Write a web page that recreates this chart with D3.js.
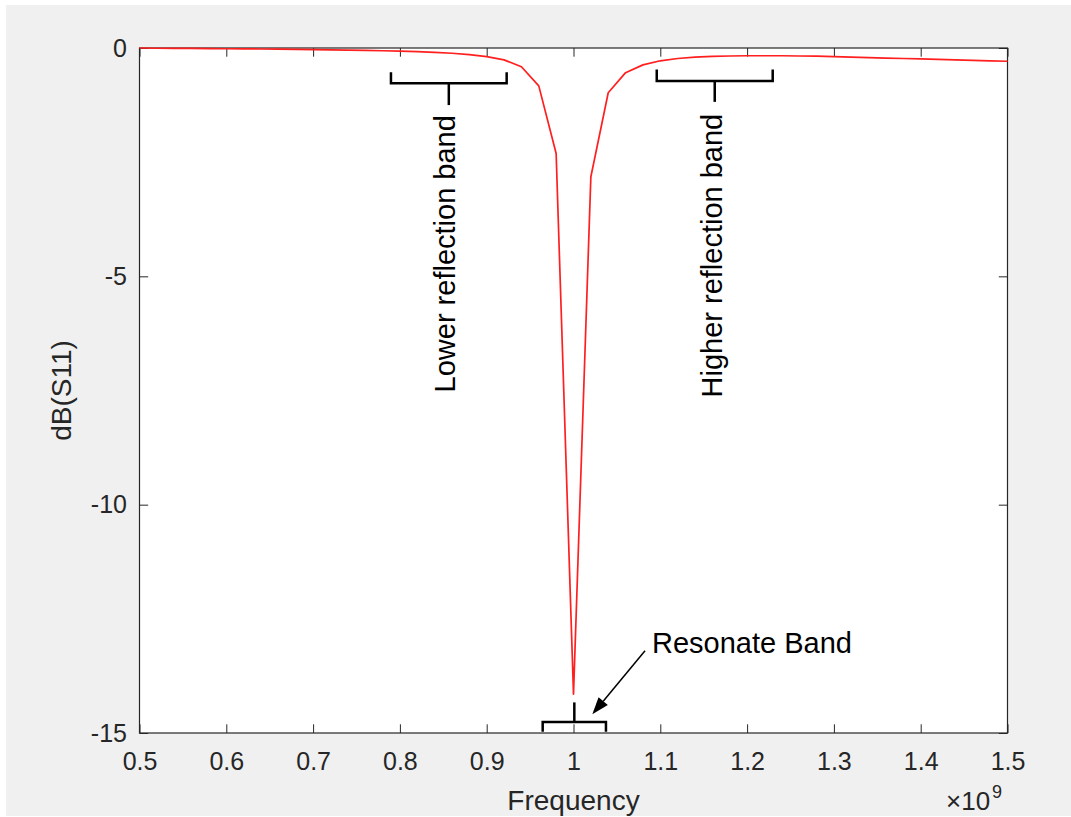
<!DOCTYPE html>
<html>
<head>
<meta charset="utf-8">
<script src="https://cdn.jsdelivr.net/npm/d3@7/dist/d3.min.js"></script>
<style>
  html, body { margin: 0; padding: 0; background: #fff; }
  svg { display: block; font-family: "Liberation Sans", Arial, Helvetica, sans-serif; }
</style>
</head>
<body>
<svg id="chart" width="1071" height="817"></svg>
<script>
// Frequency samples (units of 1e9 Hz) and the reflection coefficient in dB
const freq = [
  0.50, 0.52, 0.54, 0.56, 0.58, 0.60, 0.62, 0.64, 0.66, 0.68,
  0.70, 0.72, 0.74, 0.76, 0.78, 0.80, 0.82, 0.84, 0.86, 0.88,
  0.90, 0.92, 0.94, 0.96, 0.98, 1.00, 1.02, 1.04, 1.06, 1.08,
  1.10, 1.12, 1.14, 1.16, 1.18, 1.20, 1.22, 1.24, 1.26, 1.28,
  1.30, 1.32, 1.34, 1.36, 1.38, 1.40, 1.42, 1.44, 1.46, 1.48, 1.50
];
const s11dB = [
  0.000, -0.005, -0.008, -0.010, -0.013, -0.016, -0.019, -0.022, -0.026, -0.030,
  -0.035, -0.040, -0.045, -0.052, -0.060, -0.070, -0.080, -0.095, -0.115, -0.145,
  -0.190, -0.260, -0.410, -0.830, -2.310, -14.150, -2.820, -0.980, -0.540, -0.370,
  -0.280, -0.230, -0.200, -0.185, -0.175, -0.170, -0.170, -0.170, -0.175, -0.180,
  -0.190, -0.200, -0.210, -0.220, -0.230, -0.240, -0.250, -0.260, -0.270, -0.280, -0.290
];

// Axis ticks
const xTicks = [0.5, 0.6, 0.7, 0.8, 0.9, 1.0, 1.1, 1.2, 1.3, 1.4, 1.5];
const xTickLabels = ["0.5", "0.6", "0.7", "0.8", "0.9", "1", "1.1", "1.2", "1.3", "1.4", "1.5"];
const yTicks = [-15, -10, -5, 0];
const yTickLabels = ["-15", "-10", "-5", "0"];

// Band annotations: [start, end] in frequency
const lowerBand = [0.7897, 0.923];
const higherBand = [1.0959, 1.2295];
const resonateBand = [0.9645, 1.0374];

const svg = d3.select("#chart");
const W = 1071, H = 817;
const plot = { left: 139.5, right: 1007.5, top: 48, bottom: 733 };

// Figure background
svg.append("rect").attr("x", 6).attr("y", 5).attr("width", W - 6).attr("height", H - 6)
  .attr("fill", "#f0f0f0");
svg.append("rect")
  .attr("x", plot.left).attr("y", plot.top)
  .attr("width", plot.right - plot.left).attr("height", plot.bottom - plot.top)
  .attr("fill", "#ffffff");

const x = d3.scaleLinear().domain([0.5, 1.5]).range([plot.left, plot.right]);
const y = d3.scaleLinear().domain([-15, 0]).range([plot.bottom, plot.top]);

const axisColor = "#262626";
const tickLen = 8.7;
const fmtX = (d) => xTickLabels[xTicks.indexOf(d)];
const fmtY = (d) => yTickLabels[yTicks.indexOf(d)];

function styleAxis(g) {
  g.select(".domain").remove();
  g.selectAll(".tick line").attr("stroke", axisColor).attr("stroke-width", 1);
  g.selectAll(".tick text").attr("fill", axisColor).attr("font-size", 25)
    .attr("font-family", "'Liberation Sans', Arial, Helvetica, sans-serif");
}

// Bottom axis with labels
svg.append("g").attr("transform", `translate(0,${plot.bottom})`)
  .call(d3.axisBottom(x).tickValues(xTicks).tickFormat(fmtX).tickSizeInner(-tickLen).tickSizeOuter(0).tickPadding(19.5))
  .call(styleAxis);
// Top axis ticks
svg.append("g").attr("transform", `translate(0,${plot.top})`)
  .call(d3.axisTop(x).tickValues(xTicks).tickFormat("").tickSizeInner(-tickLen).tickSizeOuter(0))
  .call(styleAxis);
// Left axis with labels
svg.append("g").attr("transform", `translate(${plot.left},0)`)
  .call(d3.axisLeft(y).tickValues(yTicks).tickFormat(fmtY).tickSizeInner(-tickLen).tickSizeOuter(0).tickPadding(12.5))
  .call(styleAxis);
// Right axis ticks
svg.append("g").attr("transform", `translate(${plot.right},0)`)
  .call(d3.axisRight(y).tickValues(yTicks).tickFormat("").tickSizeInner(-tickLen).tickSizeOuter(0))
  .call(styleAxis);

// Axes box
svg.append("rect")
  .attr("x", plot.left).attr("y", plot.top)
  .attr("width", plot.right - plot.left).attr("height", plot.bottom - plot.top)
  .attr("fill", "none").attr("stroke", axisColor).attr("stroke-width", 1.2);

// S11 trace
const data = freq.map((f, i) => ({ f, v: s11dB[i] }));
svg.append("path")
  .datum(data)
  .attr("fill", "none")
  .attr("stroke", "#ff1f1f")
  .attr("stroke-width", 1.7)
  .attr("stroke-linejoin", "round")
  .attr("d", d3.line().x(d => x(d.f)).y(d => y(d.v)));

// Axis labels
svg.append("text")
  .attr("x", (plot.left + plot.right) / 2).attr("y", 810)
  .attr("text-anchor", "middle").attr("font-size", 28).attr("fill", axisColor)
  .text("Frequency");
svg.append("text")
  .attr("transform", `translate(71,${(plot.top + plot.bottom) / 2}) rotate(-90)`)
  .attr("text-anchor", "middle").attr("font-size", 28).attr("fill", axisColor)
  .text("dB(S11)");
const expo = svg.append("text")
  .attr("x", 946).attr("y", 810)
  .attr("font-size", 26).attr("fill", axisColor);
expo.append("tspan").text("\u00d710");
expo.append("tspan").attr("font-size", 18).attr("dy", -12).attr("dx", 2).text("9");

// Annotation brackets
const ink = "#000";
const ann = svg.append("g").attr("fill", "none").attr("stroke", ink)
  .attr("stroke-width", 2.5).attr("stroke-linejoin", "miter");

function bracket(band, level, hook, stemEnd) {
  const mid = (band[0] + band[1]) / 2;
  ann.append("path").attr("d",
    `M${x(band[0])},${y(hook)} L${x(band[0])},${y(level)} L${x(band[1])},${y(level)} L${x(band[1])},${y(hook)}`);
  ann.append("path").attr("d", `M${x(mid)},${y(level)} L${x(mid)},${y(stemEnd)}`);
  return mid;
}

const lowMid = bracket(lowerBand, -0.77, -0.53, -1.25);
const highMid = bracket(higherBand, -0.72, -0.47, -1.18);
bracket(resonateBand, -14.76, -14.97, -14.33);

// Rotated band labels
svg.append("text")
  .attr("transform", `translate(${x(lowMid) + 6.5},${y(-1.47)}) rotate(-90)`)
  .attr("text-anchor", "end").attr("font-size", 29).attr("fill", ink)
  .text("Lower reflection band");
svg.append("text")
  .attr("transform", `translate(${x(highMid) + 7.5},${y(-1.44)}) rotate(-90)`)
  .attr("text-anchor", "end").attr("font-size", 29).attr("fill", ink)
  .text("Higher reflection band");

// Resonate band label with a filled arrow pointing at the bracket
const ax1 = x(1.0824), ay1 = y(-13.2);
const ax2 = x(1.0217), ay2 = y(-14.59);
const ang = Math.atan2(ay2 - ay1, ax2 - ax1);
const headLen = 17, headHalf = 6;
const bx = ax2 - headLen * Math.cos(ang), by = ay2 - headLen * Math.sin(ang);
svg.append("line")
  .attr("x1", ax1).attr("y1", ay1).attr("x2", bx).attr("y2", by)
  .attr("stroke", ink).attr("stroke-width", 1.5);
svg.append("path")
  .attr("d", `M${ax2},${ay2} L${bx + headHalf * Math.sin(ang)},${by - headHalf * Math.cos(ang)} L${bx - headHalf * Math.sin(ang)},${by + headHalf * Math.cos(ang)} Z`)
  .attr("fill", ink);

svg.append("text")
  .attr("x", x(1.0) + 78.5).attr("y", y(-13.24))
  .attr("font-size", 29).attr("fill", ink)
  .text("Resonate Band");
</script>
</body>
</html>
